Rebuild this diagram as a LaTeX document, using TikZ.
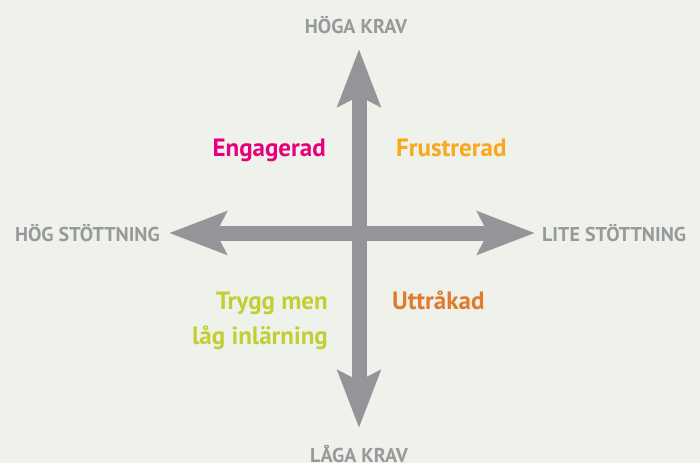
\documentclass[tikz,border=0pt]{standalone}
\usepackage{fontspec}
\setmainfont{PT Sans}
\usetikzlibrary{arrows.meta}
\definecolor{bgc}{HTML}{EEF2EB}
\definecolor{arrowgray}{HTML}{939598}
\definecolor{labgray}{HTML}{97999B}
\definecolor{cpink}{HTML}{E6007E}
\definecolor{corange}{HTML}{F9A71C}
\definecolor{cdorange}{HTML}{E07A2C}
\definecolor{clime}{HTML}{C2CF34}
\tikzset{
  axislabel/.style={text=labgray, font=\fontsize{20}{24}\selectfont\bfseries, inner sep=0pt},
  quadlabel/.style={font=\fontsize{25}{35}\selectfont\bfseries, inner sep=0pt},
  bigarrow/.style={draw=arrowgray, line width=15pt,
    {Stealth[length=57pt,width=42pt,inset=10pt]}-{Stealth[length=57pt,width=42pt,inset=10pt]}}
}
\begin{document}
\begin{tikzpicture}[x=1pt,y=-1pt]
\fill[bgc] (0,0) rectangle (700,463);
\useasboundingbox (0,0) rectangle (700,463);
\coordinate (top) at (359,49);
\coordinate (bottom) at (359,428);
\coordinate (left) at (169,233);
\coordinate (right) at (535,233);
\draw[bigarrow] (top) -- (bottom);
\draw[bigarrow] (left) -- (right);
\node[axislabel, anchor=base] (hk) at (356,33) {HÖGA KRAV};
\node[axislabel, anchor=base] (lk) at (359,462) {LÅGA KRAV};
\node[axislabel, anchor=base east] (hs) at (160,241) {HÖG STÖTTNING};
\node[axislabel, anchor=base west] (ls) at (542,241) {LITE STÖTTNING};
\node[quadlabel, text=cpink, anchor=base east] (eng) at (326,156) {Engagerad};
\node[quadlabel, text=corange, anchor=base west] (fru) at (396,156) {Frustrerad};
\node[quadlabel, text=clime, anchor=base east, align=right] (tryg) at (328,344) {Trygg men\\låg inlärning};
\node[quadlabel, text=cdorange, anchor=base west] (utt) at (392,309) {Uttråkad};
\end{tikzpicture}
\end{document}
